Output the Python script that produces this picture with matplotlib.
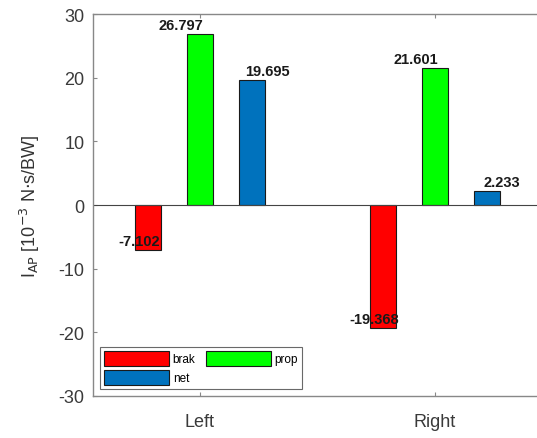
import numpy as np
import matplotlib.pyplot as plt

plt.rcParams['axes.unicode_minus'] = False

sides = ['Left', 'Right']
series = ['brak', 'prop', 'net']
brak = [-7.102, -19.368]
prop = [26.797, 21.601]
net = [19.695, 2.233]
colors = ['#FF0000', '#00FF00', '#0072BD']

fig = plt.figure(figsize=(5.37, 4.39), dpi=100)
ax = fig.add_axes([0.1732, 0.0957, 0.836, 0.870])

x = np.arange(1, len(sides) + 1)
width = 0.112
offsets = [-0.222, 0.0, 0.222]
label_dx = [-9, -19, 15]  # text shift in pixels, as in the original figure

handles = []
for vals, name, c, off, dx in zip([brak, prop, net], series, colors, offsets, label_dx):
    bars = ax.bar(x + off, vals, width, color=c, edgecolor='#1a1a1a', linewidth=0.8, label=name)
    handles.append(bars)
    for b, v in zip(bars, vals):
        ax.annotate(f'{v:.3f}', (b.get_x() + b.get_width() / 2, v),
                    xytext=(dx, 2), textcoords='offset pixels',
                    ha='center', va='bottom', fontsize=10.5, fontweight='bold',
                    family='Liberation Sans', color='#1a1a1a')

ax.axhline(0, color='#444444', linewidth=0.8)
ax.set_xlim(0.545, 2.455)
ax.set_ylim(-30, 30)
ax.set_xticks(x)
ax.set_xticklabels(sides)
ax.set_yticks([-30, -20, -10, 0, 10, 20, 30])
ax.tick_params(labelsize=13, direction='in', length=3, color='#888888', labelcolor='#3a3a3a',
               pad=6, top=True, right=True)
for lbl in ax.get_xticklabels() + ax.get_yticklabels():
    lbl.set_family('Liberation Sans')
ax.tick_params(axis='x', pad=12)
for s in ax.spines.values():
    s.set_color('#888888')
    s.set_linewidth(1.0)

ax.set_ylabel(r'I$_{\mathrm{AP}}$ [10$^{-3}$ N$\cdot$s/BW]', fontsize=13, color='#333333',
              family='Liberation Sans', labelpad=12)

# row-wise legend order: brak, prop / net
order = [0, 2, 1]
leg = ax.legend([handles[i] for i in order], [series[i] for i in order],
                loc='lower left', ncol=2, frameon=True, fancybox=False,
                handlelength=5.5, handleheight=1.6, handletextpad=0.3, columnspacing=0.9,
                borderpad=0.35, labelspacing=0.3, borderaxespad=0.6,
                prop={'family': 'Liberation Sans', 'size': 8.5})
leg.get_frame().set_edgecolor('#444444')
leg.get_frame().set_linewidth(0.8)

fig.savefig('out.png', dpi=100)
